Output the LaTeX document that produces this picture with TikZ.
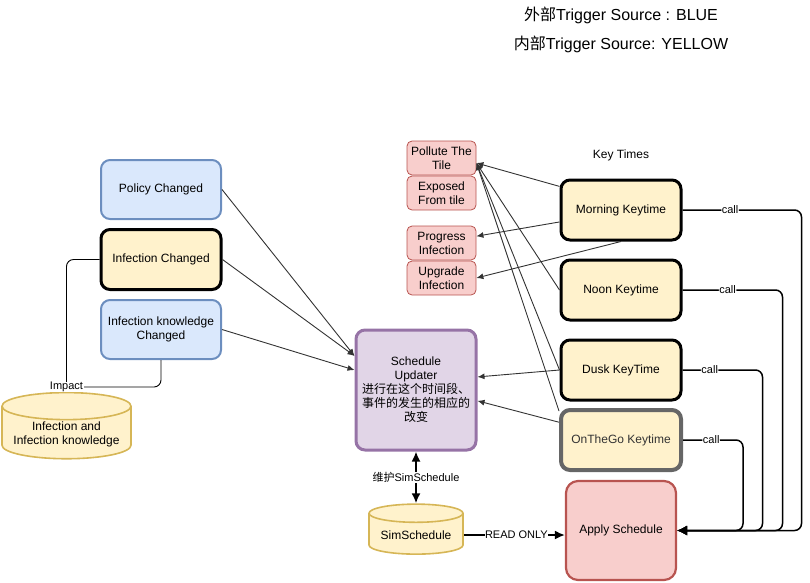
\documentclass[tikz,border=0pt]{standalone}
\usepackage{fontspec}
\setmainfont{Liberation Sans}
\newfontfamily\cjk{Noto Sans CJK SC}
\usepackage{tikz}
\usetikzlibrary{arrows.meta,shapes.geometric}
\definecolor{blueF}{HTML}{DAE8FC}
\definecolor{blueD}{HTML}{6C8EBF}
\definecolor{yelF}{HTML}{FFF2CC}
\definecolor{yelD}{HTML}{D6B656}
\definecolor{redF}{HTML}{F8CECC}
\definecolor{redD}{HTML}{B85450}
\definecolor{purF}{HTML}{E1D5E7}
\definecolor{purD}{HTML}{9673A6}
\definecolor{greyD}{HTML}{666666}
\definecolor{lineC}{HTML}{333333}
\tikzset{
    box/.style = {draw, rounded corners=9pt, align=center, font=\fontsize{12}{14}\selectfont,
                  minimum width=120pt, minimum height=59pt, inner sep=2pt},
    outerbox/.style = {box, fill=blueF, draw=blueD, line width=2pt},
    innerbox/.style = {box, fill=yelF, draw=black, line width=3pt, minimum height=60pt},
    taskbox/.style = {draw=redD, fill=redF, rounded corners=5pt, align=center, line width=0.8pt,
                  minimum width=69pt, minimum height=34pt, inner sep=1pt, font=\fontsize{12}{14}\selectfont},
    store/.style = {cylinder, shape border rotate=90, aspect=0.25, draw=yelD, fill=yelF,
                  line width=1.6pt, align=center, font=\fontsize{12}{14}\selectfont, inner sep=1pt},
    feed/.style = {draw=lineC, line width=0.9pt, -{Latex[length=7pt,width=6pt]}},
    callarr/.style = {draw=black, line width=1.5pt, rounded corners=7pt, -{Latex[length=10pt,width=10pt]}},
    lbl/.style = {fill=white, inner sep=0.5pt, font=\fontsize{11}{12}\selectfont}
}

\begin{document}
\begin{tikzpicture}[x=1pt,y=-1pt,line join=round]
\useasboundingbox (0,0) rectangle (810,582);

% legend
\node (legA) at (621,15) {\fontsize{16}{18}\selectfont{\cjk 外部}Trigger Source : BLUE};
\node (legB) at (621,44) {\fontsize{16}{18}\selectfont{\cjk 内部}Trigger Source: YELLOW};

% triggers on the left
\node[outerbox] (policy) at (161,189.5) {Policy Changed};
\node[innerbox] (infchg) at (161,259.5) {Infection Changed};
\node[outerbox] (infknow) at (161,329.5) {Infection knowledge\\Changed};
\node[store, minimum width=129pt, minimum height=52pt] (infdb) at (66.5,434) {Infection and\\Infection knowledge};

% updater and schedule
\node[box, fill=purF, draw=purD, line width=3pt, minimum height=120pt] (updater) at (416,390)
    {Schedule\\Updater\\{\cjk 进行在这个时间段、}\\{\cjk 事件的发生的相应的}\\{\cjk 改变}};
\node[store, minimum width=94pt, minimum height=50pt] (simsch) at (416,535) {SimSchedule};
\node[box, fill=redF, draw=redD, line width=2.2pt, rounded corners=12pt,
      minimum width=110pt, minimum height=99pt] (apply) at (621,530.5) {Apply Schedule};

% tasks
\node[taskbox] (pollute) at (441.5,158) {Pollute The\\Tile};
\node[taskbox] (exposed) at (441.5,193) {Exposed\\From tile};
\node[taskbox] (progress) at (441.5,243) {Progress\\Infection};
\node[taskbox] (upgrade) at (441.5,278) {Upgrade\\Infection};

% key times
\node[font=\fontsize{12}{14}\selectfont] (keytimes) at (621,155) {Key Times};
\node[innerbox] (morning) at (621,210) {Morning Keytime};
\node[innerbox] (noon) at (621,290) {Noon Keytime};
\node[innerbox] (dusk) at (621,370) {Dusk KeyTime};
\node[innerbox, draw=greyD, line width=4pt, text=lineC] (otg) at (621,440) {OnTheGo Keytime};

% impact on the stored infection data
\coordinate (imp) at (66.5,387);
\draw[black, line width=0.9pt, rounded corners=7pt] (infchg.west) -| (imp);
\draw[black, line width=0.9pt, rounded corners=7pt] (infknow.south) |- (imp);
\draw[black, line width=0.9pt, -{Latex[length=7pt,width=7pt]}] (imp) -- node[lbl, pos=0]{Impact} (infdb.north);

% triggers into the updater
\draw[feed] (policy.east) -- (updater.151);
\draw[feed] (infchg.east) -- (updater.151);
\draw[feed] (infknow.east) -- (updater.162);

% key times into the tasks
\coordinate (polluteIn) at ([yshift=-5pt]pollute.east);
\draw[feed] (morning.159) -- (polluteIn);
\draw[feed] (noon.west) -- (polluteIn);
\draw[feed] (dusk.west) -- (polluteIn);
\draw[feed] (otg.155) -- (polluteIn);
\draw[feed] (morning.191) -- (progress.11);
\draw[feed] (morning.south) -- (upgrade.east);
\draw[feed] (dusk.west) -- (updater.12);
\draw[feed] (otg.164) -- (updater.350);

% calls
\draw[callarr] (morning.east) -- node[lbl, pos=0.4]{call} ++(119,0) |- (apply.east);
\draw[callarr] (noon.east) -- node[lbl, pos=0.45]{call} ++(100,0) |- (apply.east);
\draw[callarr] (dusk.east) -- node[lbl, pos=0.34]{call} ++(80,0) |- (apply.east);
\draw[callarr] (otg.east) -- node[lbl, pos=0.47]{call} ++(60,0) |- (apply.east);

% schedule storage
\draw[line width=1.8pt, {Latex[length=10pt,width=9pt]}-{Latex[length=10pt,width=9pt]}] (updater.south) --
    node[lbl]{{\cjk 维护}SimSchedule} (simsch.north);
\draw[line width=1.8pt, -{Latex[length=10pt,width=9pt]}] (simsch.east) --
    node[lbl, pos=0.52]{READ ONLY} (apply.west |- simsch.east);
\end{tikzpicture}
\end{document}
